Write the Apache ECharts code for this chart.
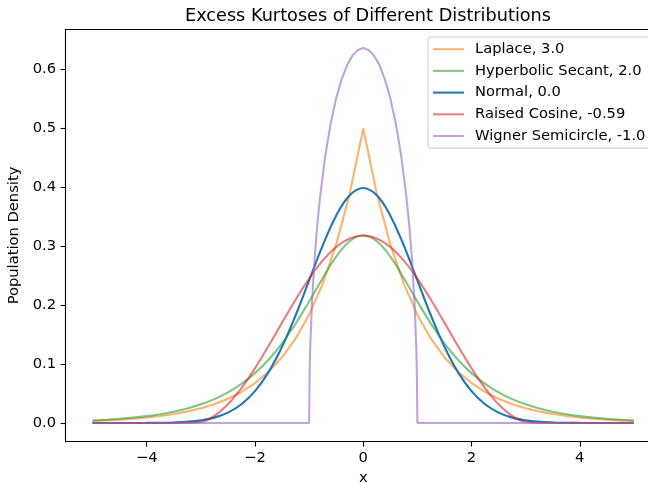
<!DOCTYPE html>
<html>
<head>
<meta charset="utf-8">
<script src="https://cdn.jsdelivr.net/npm/echarts@6/dist/echarts.min.js"></script>
<style>html,body{margin:0;padding:0;background:#fff}#c{width:648px;height:483px}</style>
</head>
<body>
<div id="c"></div>
<script>
// shared x grid (-5 .. 5 step 0.25)
const xs = [-5,-4.75,-4.5,-4.25,-4,-3.75,-3.5,-3.25,-3,-2.75,-2.5,-2.25,-2,-1.75,-1.5,-1.25,-1,-0.75,-0.5,-0.25,0,0.25,0.5,0.75,1,1.25,1.5,1.75,2,2.25,2.5,2.75,3,3.25,3.5,3.75,4,4.25,4.5,4.75,5];
const laplace = [0.00337,0.00433,0.00555,0.00713,0.00916,0.01176,0.01510,0.01939,0.02489,0.03196,0.04104,0.05270,0.06767,0.08689,0.11157,0.14325,0.18394,0.23618,0.30327,0.38940,0.5,0.38940,0.30327,0.23618,0.18394,0.14325,0.11157,0.08689,0.06767,0.05270,0.04104,0.03196,0.02489,0.01939,0.01510,0.01176,0.00916,0.00713,0.00555,0.00433,0.00337];
const hypsecant = [0.00429,0.00551,0.00707,0.00908,0.01166,0.01496,0.01921,0.02465,0.03162,0.04053,0.05191,0.06636,0.08461,0.10739,0.13531,0.16856,0.20628,0.24586,0.28228,0.30862,0.31831,0.30862,0.28228,0.24586,0.20628,0.16856,0.13531,0.10739,0.08461,0.06636,0.05191,0.04053,0.03162,0.02465,0.01921,0.01496,0.01166,0.00908,0.00707,0.00551,0.00429];
const normal = [0.0,0.00001,0.00002,0.00005,0.00013,0.00035,0.00087,0.00203,0.00443,0.00909,0.01753,0.03174,0.05399,0.08628,0.12952,0.18265,0.24197,0.30114,0.35207,0.38667,0.39894,0.38667,0.35207,0.30114,0.24197,0.18265,0.12952,0.08628,0.05399,0.03174,0.01753,0.00909,0.00443,0.00203,0.00087,0.00035,0.00013,0.00005,0.00002,0.00001,0.0];
const raisedCosine = [0,0,0,0,0,0,0,0,0.00159,0.01205,0.03165,0.05918,0.09292,0.13079,0.17041,0.20934,0.24515,0.27561,0.29883,0.31336,0.31831,0.31336,0.29883,0.27561,0.24515,0.20934,0.17041,0.13079,0.09292,0.05918,0.03165,0.01205,0.00159,0,0,0,0,0,0,0,0];
// Wigner semicircle uses its own, denser x grid near the edges
const xsWigner = [-5,-1,-0.99,-0.98,-0.95,-0.9,-0.85,-0.8,-0.7,-0.6,-0.5,-0.4,-0.3,-0.2,-0.1,0,0.1,0.2,0.3,0.4,0.5,0.6,0.7,0.8,0.85,0.9,0.95,0.98,0.99,1,5];
const wigner = [0,0,0.08981,0.12669,0.19879,0.27750,0.33536,0.38197,0.45464,0.50930,0.55133,0.58347,0.60730,0.62376,0.63343,0.63662,0.63343,0.62376,0.60730,0.58347,0.55133,0.50930,0.45464,0.38197,0.33536,0.27750,0.19879,0.12669,0.08981,0,0];

const xTicks = [-4,-2,0,2,4];
const yTicks = [0,0.1,0.2,0.3,0.4,0.5,0.6];
const names = ['Laplace, 3.0','Hyperbolic Secant, 2.0','Normal, 0.0','Raised Cosine, -0.59','Wigner Semicircle, -1.0'];
const colors = ['rgba(255,127,14,0.6)','rgba(44,160,44,0.6)','rgb(31,119,180)','rgba(214,39,40,0.6)','rgba(148,103,189,0.6)'];
const smoothing = [false,0.4,0.4,0.4,false];

const zip = (a,b)=>a.map((v,i)=>[v,b[i]]);
const seriesData = [zip(xs,laplace),zip(xs,hypsecant),zip(xs,normal),zip(xs,raisedCosine),zip(xsWigner,wigner)];
const FONT = 'DejaVu Sans';
const FS = 14.7;

const chart = echarts.init(document.getElementById('c'), null, {renderer:'canvas'});
chart.setOption({
  animation:false,
  backgroundColor:'#fff',
  title:{text:'Excess Kurtoses of Different Distributions',left:363,top:2,textAlign:'center',
    textStyle:{fontFamily:FONT,fontSize:17.7,fontWeight:'normal',color:'#000'}},
  grid:{left:65.5,top:29.3,width:595.5,height:412.4,show:false,outerBoundsMode:'none',containLabel:false},
  legend:{orient:'vertical',left:428,top:37,padding:[4,14,4,5],
    backgroundColor:'rgba(255,255,255,0.8)',borderColor:'#cccccc',borderWidth:1,borderRadius:3,
    icon:'rect',itemWidth:31,itemHeight:2,itemGap:5.3,
    textStyle:{fontFamily:FONT,fontSize:FS,color:'#000',lineHeight:16.4,padding:[0,0,0,6]},
    data:names},
  xAxis:[{type:'value',min:-5.5,max:5.5,name:'x',nameLocation:'middle',nameGap:29,
    nameTextStyle:{fontFamily:FONT,fontSize:FS,color:'#000'},
    axisLine:{show:true,onZero:false,lineStyle:{color:'#000',width:1.1}},
    axisTick:{show:true,length:4.9,customValues:xTicks,lineStyle:{color:'#000',width:1.1}},
    axisLabel:{customValues:xTicks,margin:9,fontFamily:FONT,fontSize:FS,color:'#000',
      formatter:v=>String(v).replace('-','\u2212')},
    splitLine:{show:false}},
   {type:'value',position:'top',min:-5.5,max:5.5,
    axisLine:{show:true,onZero:false,lineStyle:{color:'#000',width:1.1}},
    axisTick:{show:false},axisLabel:{show:false},splitLine:{show:false}}],
  yAxis:{type:'value',min:-0.0318,max:0.6685,name:'Population Density',nameLocation:'middle',nameGap:41,nameRotate:90,
    nameTextStyle:{fontFamily:FONT,fontSize:FS,color:'#000'},
    axisLine:{show:true,onZero:false,lineStyle:{color:'#000',width:1.1}},
    axisTick:{show:true,length:4.9,customValues:yTicks,lineStyle:{color:'#000',width:1.1}},
    axisLabel:{customValues:yTicks,margin:9.5,fontFamily:FONT,fontSize:FS,color:'#000',
      formatter:v=>v.toFixed(1)},
    splitLine:{show:false}},
  series:names.map((n,i)=>({name:n,type:'line',data:seriesData[i],showSymbol:false,symbol:'none',
    smooth:smoothing[i],color:colors[i],lineStyle:{width:2.1,color:colors[i]},clip:true,z:2+i}))
});
</script>
</body>
</html>
